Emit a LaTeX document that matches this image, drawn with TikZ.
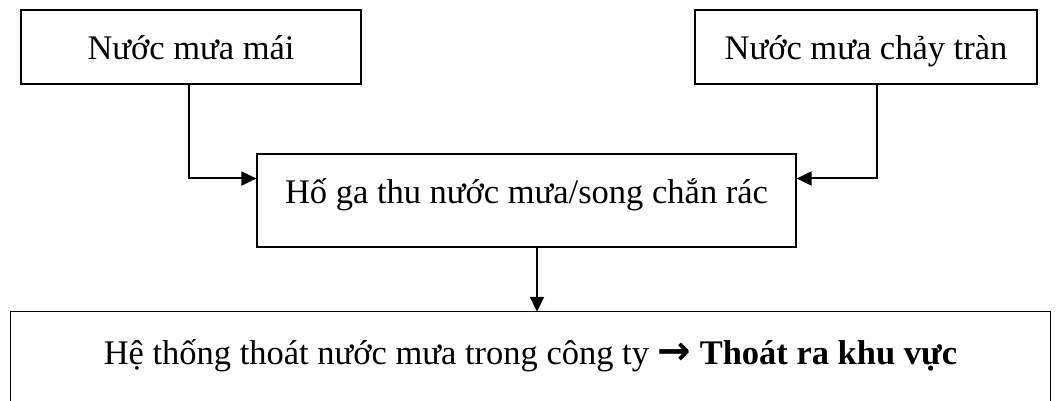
\documentclass[tikz,border=0pt]{standalone}
\usepackage{fontspec}
\setmainfont{Liberation Serif}
\newfontfamily\arrowfont{DejaVu Sans}
\usetikzlibrary{arrows.meta}

\tikzset{
  box/.style={draw, line width=1.2pt, inner sep=0pt, minimum height=74pt,
    text height=30pt, text depth=4pt},
  flow/.style={line width=2pt, -{Triangle[length=15pt,width=14pt]}}
}

\begin{document}
\begin{tikzpicture}[x=1pt, y=-1pt, font=\fontsize{34.5}{40}\selectfont]
  \clip (0,0) rectangle (1058,401);
  % sources
  \node (mai)  [box, minimum width=340pt] at (191,47)  {Nước mưa mái};
  \node (tran) [box, minimum width=342pt] at (866,47)  {Nước mưa chảy tràn};
  % collection pit
  \node (ho)   [box, minimum width=539pt, minimum height=93pt, text depth=24pt]
        at (526.5,200.5) {Hố ga thu nước mưa/song chắn rác};
  % outlet, box runs off the bottom edge
  \node (sys)  [inner sep=0pt, minimum width=1039pt, minimum height=80pt,
        text height=30pt, text depth=6pt] at (530.5,352)
        {Hệ thống thoát nước mưa trong công ty
         {\arrowfont\bfseries\fontsize{40}{40}\selectfont →}
         \textbf{Thoát ra khu vực}};
  \draw [line width=1.2pt] ([yshift=-20pt]sys.south west) |- (sys.north)
        -| ([yshift=-20pt]sys.south east);
  % connectors
  \draw [flow] ([xshift=-2pt]mai.south) |- ([yshift=22pt]ho.west);
  \draw [flow] ([xshift=11pt]tran.south) |- ([yshift=22pt]ho.east);
  \draw [flow] ([xshift=10.5pt]ho.south) -- ([xshift=10.5pt]ho.south |- sys.north);
\end{tikzpicture}
\end{document}
